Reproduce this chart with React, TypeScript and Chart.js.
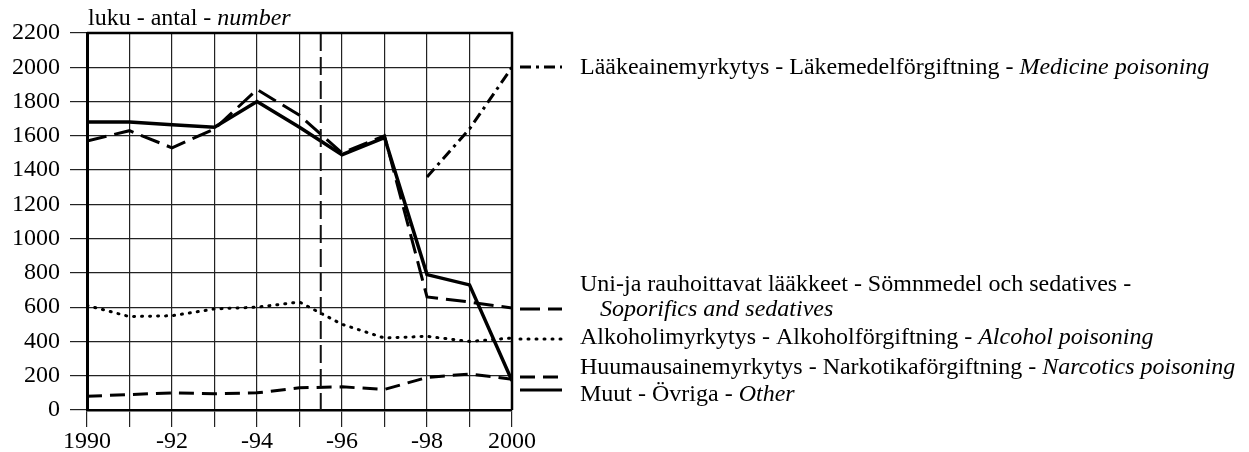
import React, { useEffect, useRef } from "react";
import { Chart, registerables } from "chart.js";

Chart.register(...registerables);

const years = [1990, 1991, 1992, 1993, 1994, 1995, 1996, 1997, 1998, 1999, 2000];
const medicine = [null, null, null, null, null, null, null, null, 1360, 1640, 2000];
const soporifics = [1570, 1630, 1530, 1640, 1870, 1720, 1500, 1600, 660, 630, 595];
const alcohol = [610, 545, 550, 590, 600, 630, 500, 420, 430, 400, 420];
const narcotics = [80, 90, 100, 95, 100, 130, 135, 120, 190, 210, 180];
const other = [1680, 1680, 1665, 1650, 1800, 1650, 1490, 1590, 790, 730, 170];
const breakYear = 1995.5;
const yMin = 0;
const yMax = 2200;
const yStep = 200;

const FONT = "Liberation Serif";
const FS = 24;

const pts = (vals: (number | null)[]) =>
  years
    .map((x, i) => ({ x, y: vals[i] }))
    .filter((p) => p.y !== null) as { x: number; y: number }[];

const dashMed = [11, 5, 3, 5];
const dashSop = [20, 8];
const dashAlc = [1, 7];
const dashNar = [15, 8];

function drawRich(ctx: CanvasRenderingContext2D, x: number, y: number, parts: [string, boolean][]) {
  let cx = x;
  for (const [t, it] of parts) {
    ctx.font = `${it ? "italic " : ""}${FS}px "${FONT}"`;
    ctx.fillText(t, cx, y);
    cx += ctx.measureText(t).width;
  }
}

const overlay = {
  id: "overlay",
  afterDraw(chart: any) {
    const ctx: CanvasRenderingContext2D = chart.ctx;
    const a = chart.chartArea;
    const xs = chart.scales.x;
    ctx.save();
    // break line
    const bx = xs.getPixelForValue(breakYear);
    ctx.strokeStyle = "#111";
    ctx.lineWidth = 2;
    ctx.setLineDash([18, 6]);
    ctx.beginPath();
    ctx.moveTo(bx, a.top);
    ctx.lineTo(bx, a.bottom);
    ctx.stroke();
    ctx.setLineDash([]);
    // frame top/right
    ctx.lineWidth = 2.5;
    ctx.strokeStyle = "#000";
    ctx.beginPath();
    ctx.moveTo(a.left, a.top);
    ctx.lineTo(a.right, a.top);
    ctx.lineTo(a.right, a.bottom);
    ctx.stroke();

    ctx.fillStyle = "#000";
    ctx.textBaseline = "middle";
    ctx.textAlign = "left";
    // title
    drawRich(ctx, a.left + 1, 19, [["luku - antal - ", false], ["number", true]]);

    // legend
    const lx0 = a.right + 8;
    const lx1 = a.right + 50;
    const tx = a.right + 68;
    const leg = (y: number, dash: number[], w: number, cap: CanvasLineCap) => {
      ctx.save();
      ctx.strokeStyle = "#000";
      ctx.lineWidth = w;
      ctx.lineCap = cap;
      ctx.setLineDash(dash);
      ctx.beginPath();
      ctx.moveTo(lx0, y);
      ctx.lineTo(lx1, y);
      ctx.stroke();
      ctx.restore();
    };
    leg(67, dashMed, 3, "butt");
    drawRich(ctx, tx, 68, [["Lääkeainemyrkytys - Läkemedelförgiftning - ", false], ["Medicine poisoning", true]]);
    leg(309, dashSop, 3, "butt");
    drawRich(ctx, tx, 285, [["Uni-ja rauhoittavat lääkkeet - Sömnmedel och sedatives -", false]]);
    drawRich(ctx, tx + 20, 310, [["Soporifics and sedatives", true]]);
    leg(339, dashAlc, 3, "round");
    drawRich(ctx, tx, 338, [["Alkoholimyrkytys - Alkoholförgiftning - ", false], ["Alcohol poisoning", true]]);
    leg(377, dashNar, 3, "butt");
    drawRich(ctx, tx, 368, [["Huumausainemyrkytys - Narkotikaförgiftning - ", false], ["Narcotics poisoning", true]]);
    leg(390, [], 3, "butt");
    drawRich(ctx, tx, 395, [["Muut - Övriga - ", false], ["Other", true]]);
    ctx.restore();
  },
};

export default function App() {
  const ref = useRef<HTMLCanvasElement | null>(null);
  useEffect(() => {
    if (!ref.current) return;
    const ds = (label: string, vals: (number | null)[], dash: number[], w: number, cap: string) => ({
      label,
      data: pts(vals),
      borderColor: "#000",
      borderWidth: w,
      borderDash: dash,
      borderCapStyle: cap,
      pointRadius: 0,
      fill: false,
      tension: 0,
    });
    const chart = new Chart(ref.current, {
      type: "line",
      data: {
        datasets: [
          ds("Medicine poisoning", medicine, dashMed, 3, "butt"),
          ds("Soporifics and sedatives", soporifics, dashSop, 3, "butt"),
          ds("Alcohol poisoning", alcohol, dashAlc, 3, "round"),
          ds("Narcotics poisoning", narcotics, dashNar, 3, "butt"),
          ds("Other", other, [], 3.5, "butt"),
        ] as any,
      },
      options: {
        animation: false,
        responsive: true,
        maintainAspectRatio: false,
        layout: { padding: { left: 0, top: 33, right: 737, bottom: 0 } },
        plugins: { legend: { display: false }, tooltip: { enabled: false }, title: { display: false } },
        scales: {
          x: {
            type: "linear",
            min: years[0],
            max: years[years.length - 1],
            afterFit: (s: any) => {
              s.height = 42;
            },
            ticks: {
              stepSize: 1,
              autoSkip: false,
              maxRotation: 0,
              padding: 0,
              color: "#000",
              font: { family: FONT, size: FS },
              callback: (v: any) => {
                const n = Number(v);
                if (n % 2 !== 0) return "";
                if (n === years[0] || n === years[years.length - 1]) return String(n);
                return "-" + String(n).slice(2);
              },
            },
            grid: { color: "#222", lineWidth: 1.2, tickLength: 17, drawTicks: true },
            border: { display: true, color: "#000", width: 2.5 },
          },
          y: {
            min: yMin,
            max: yMax,
            afterFit: (s: any) => {
              s.width = 87;
            },
            ticks: {
              stepSize: yStep,
              padding: 10,
              color: "#000",
              font: { family: FONT, size: FS },
              callback: (v: any) => String(v),
            },
            grid: { color: "#222", lineWidth: 1.2, tickLength: 17, drawTicks: true },
            border: { display: true, color: "#000", width: 3 },
          },
        },
      },
      plugins: [overlay],
    } as any);
    return () => chart.destroy();
  }, []);
  return (
    <div style={{ position: "absolute", left: 0, top: 0, width: 1249, height: 452, background: "#fff" }}>
      <canvas ref={ref} />
    </div>
  );
}
